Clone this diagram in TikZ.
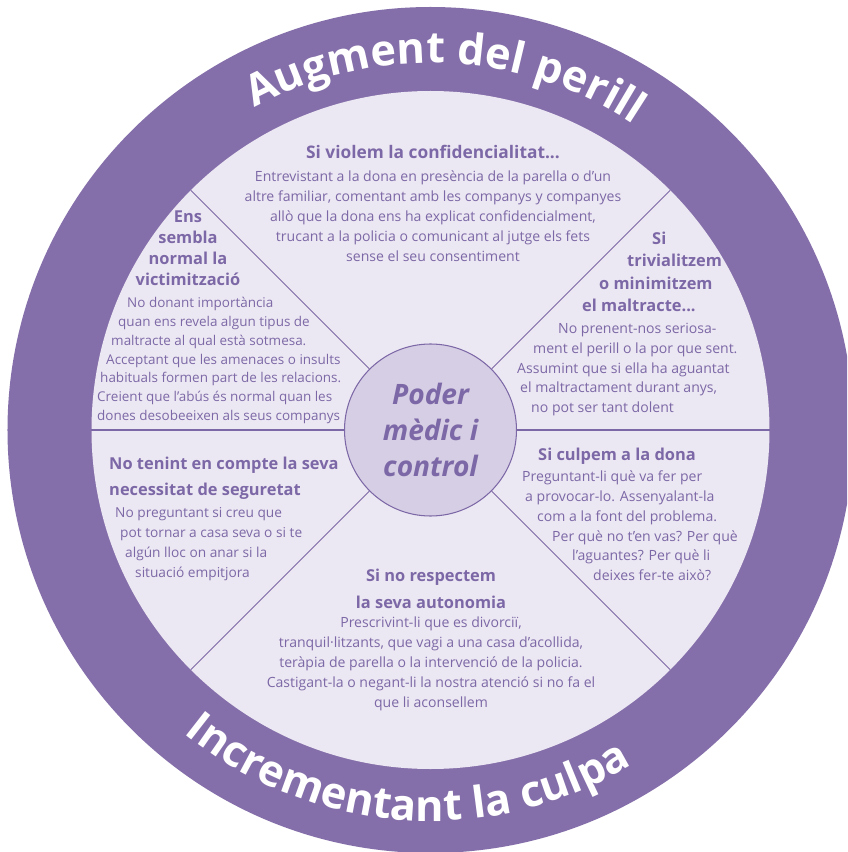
\documentclass[tikz,border=0pt]{standalone}
\usepackage{fontspec}
\setmainfont{Open Sans}
\usetikzlibrary{decorations.text}

\definecolor{ringpurple}{RGB}{133,111,170}
\definecolor{discpurple}{RGB}{236,232,243}
\definecolor{corepurple}{RGB}{214,206,228}
\definecolor{inkpurple}{RGB}{124,104,166}

\newlength\pxu
\setlength\pxu{0.3mm}
\newcommand\indt[1]{\hspace*{#1\pxu}}
\newcommand\ringfont{\bfseries\fontsize{37}{44}\selectfont}

\begin{document}
\begin{tikzpicture}[x=0.3mm,y=0.3mm,
    head/.style={font=\bfseries\fontsize{14}{#1}\selectfont,text=inkpurple,inner sep=0pt},
    head/.default=18,
    body/.style={font=\fontsize{12}{#1}\selectfont,text=inkpurple,inner sep=0pt},
    body/.default=16,
    spoke/.style={draw=inkpurple,line width=0.9pt},
    ring text/.style={decorate,decoration={text along path,text={|\ringfont|#1},text align=center,text color=white}}]
    \useasboundingbox (-430.5,-422) rectangle (416.5,430);
    \fill[white] (-430.5,-422) rectangle (416.5,430);
    \clip (-430.5,-422) rectangle (416.5,430);

    % wheel
    \fill[ringpurple] (0,0) circle[radius=423];
    \fill[discpurple] (0,0) circle[radius=339];
    \node[circle,draw=inkpurple,line width=0.9pt,fill=corepurple,minimum size=172\pxu,inner sep=0pt,
          align=center,text=inkpurple,font=\bfseries\itshape\fontsize{24}{31}\selectfont] (core) at (0,0) {Poder\\mèdic i\\control};
    \foreach \a in {0,45,135,180,225,315} {
        \coordinate (rim\a) at (\a:339);
        \draw[spoke] (core) -- (rim\a);
    }

    % ring labels
    \path[ring text={Augment del perill}] (147.5:367) arc[start angle=147.5,end angle=27.5,radius=367];
    \path[ring text={Incrementant la culpa}] (-154:391) arc[start angle=-154,end angle=-34,radius=391];

    % top
    \node[head,font=\bfseries\fontsize{14.8}{18}\selectfont,align=center] (tophead) at (2.5,278) {Si violem la confidencialitat...};
    \node[body=17,align=center] (topbody) at (2.5,214) {Entrevistant a la dona en presència de la parella o d’un\\
        altre familiar, comentant amb les companys y companyes\\
        allò que la dona ens ha explicat confidencialment,\\
        trucant a la policia o comunicant al jutge els fets\\
        sense el seu consentiment};

    % upper left
    \node[head,align=center] (ulhead) at (-242.5,182) {Ens\\sembla\\normal la\\victimització};
    \node[body,font=\fontsize{11.5}{16}\selectfont,align=left,anchor=west] (ulbody) at (-333.5,69.4) {\indt{30}No donant importància\\
        \indt{21}quan ens revela algun tipus de\\
        \indt{14}maltracte al qual està sotmesa.\\
        \indt{9}Acceptant que les amenaces o insults\\
        \indt{3}habituals formen part de les relacions.\\
        Creient que l’abús és normal quan les\\
        dones desobeeixen als seus companys};

    % upper right
    \node[head=19,align=left,anchor=west] (urhead) at (151.5,158) {\indt{70}Si\\
        \indt{45}trivialitzem\\
        \indt{17}o minimitzem\\
        el maltracte...};
    \node[body=17,align=left,anchor=west] (urbody) at (86.5,60.4) {\indt{41}No prenent-nos seriosa-\\
        \indt{16}ment el perill o la por que sent.\\
        Assumint que si ella ha aguantat\\
        \indt{3}el maltractament durant anys,\\
        \indt{14}no pot ser tant dolent};

    % lower left
    \node[head=22,align=left,anchor=west] (llhead) at (-321.5,-48) {No tenint en compte la seva\\necessitat de seguretat};
    \node[body=17,font=\fontsize{11.7}{17}\selectfont,align=left,anchor=west] (llbody) at (-315.5,-114) {No preguntant si creu que\\
        \indt{5}pot tornar a casa seva o si te\\
        \indt{10}algún lloc on anar si la\\
        \indt{20}situació empitjora};

    % lower right
    \node[head,anchor=west] (lrhead) at (107.5,-26) {Si culpem a la dona};
    \node[body=17,align=left,anchor=west] (lrbody) at (91.5,-95.8) {Preguntant-li què va fer per\\
        \indt{3}a provocar-lo. Assenyalant-la\\
        \indt{15}com a la font del problema.\\
        \indt{30}Per què no t’en vas? Per què\\
        \indt{50}l’aguantes? Per què li\\
        \indt{71}deixes fer-te això?};

    % bottom
    \node[head=23,align=center] (bothead) at (0.5,-158.5) {Si no respectem\\la seva autonomia};
    \node[body=17,align=center] (botbody) at (0.5,-234) {Prescrivint-li que es divorciï,\\
        tranquil·litzants, que vagi a una casa d’acollida,\\
        teràpia de parella o la intervenció de la policia.\\
        Castigant-la o negant-li la nostra atenció si no fa el\\
        que li aconsellem};
\end{tikzpicture}
\end{document}
